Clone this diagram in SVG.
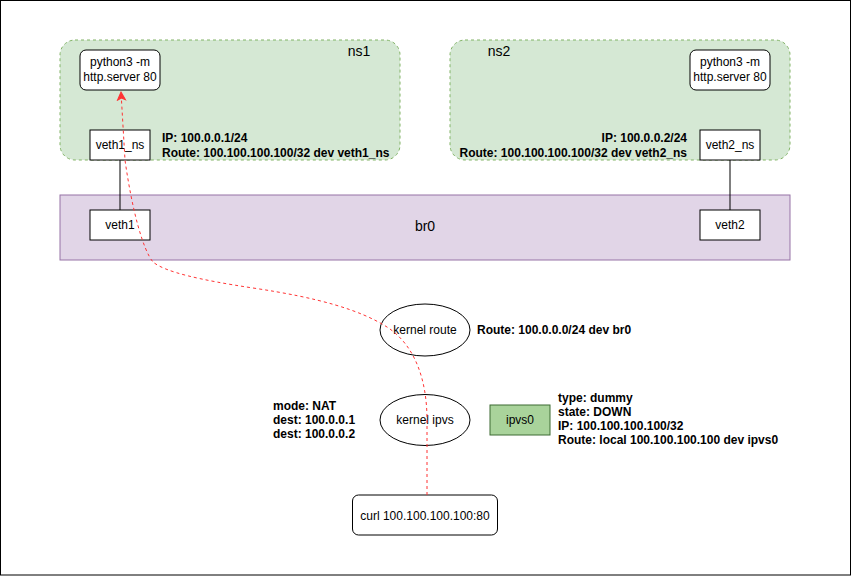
<svg xmlns="http://www.w3.org/2000/svg" width="852" height="577" viewBox="0 0 852 577">
<style>
text{font-family:"Liberation Sans",Arial,sans-serif;font-size:12px;fill:#000}
.c{text-anchor:middle}
.e{text-anchor:end}
.b{font-weight:bold}
.ns{fill:#d5e8d4;stroke:#82b366;stroke-dasharray:3 3}
.box{fill:#fff;stroke:#000}
.rbox{fill:#fff;stroke:#000}
.lbl{font-size:14px}
.ln{stroke:#000;fill:none}
.flow{stroke:#ff3333;stroke-dasharray:3 3;fill:none;stroke-width:1}
</style>
<defs>
<marker id="ah" markerUnits="userSpaceOnUse" markerWidth="10" markerHeight="10" viewBox="0 0 10 10" refX="9" refY="5" orient="auto">
<path d="M1,1 L9,5 L1,9 L3,5 z" fill="#ff3333" stroke="#ff3333"/>
</marker>
</defs>
<rect x="0.5" y="0.5" width="850" height="574.5" fill="#fff" stroke="#000"/>
<g id="ns1">
<rect class="ns" x="60" y="40" width="340" height="120" rx="15"/>
<text class="lbl c" x="359" y="56">ns1</text>
<text class="b" x="162" y="142">IP: 100.0.0.1/24</text>
<text class="b" x="162" y="157">Route: 100.100.100.100/32 dev veth1_ns</text>
</g>
<g id="ns2">
<rect class="ns" x="450" y="40" width="340" height="120" rx="15"/>
<text class="lbl c" x="499" y="56">ns2</text>
<text class="b e" x="687" y="142">IP: 100.0.0.2/24</text>
<text class="b e" x="687" y="157">Route: 100.100.100.100/32 dev veth2_ns</text>
</g>
<g id="br0">
<rect x="60" y="195" width="730" height="65" fill="#e1d5e7" stroke="#9673a6"/>
<text class="lbl c" x="425" y="231">br0</text>
</g>
<g id="connectors">
<path class="ln" d="M120 160 V210"/>
<path class="ln" d="M730 160 V210"/>
</g>
<g id="py1">
<rect class="rbox" x="80" y="50" width="80" height="40" rx="6"/>
<text class="c" x="120" y="66">python3 -m</text>
<text class="c" x="120" y="81">http.server 80</text>
</g>
<g id="py2">
<rect class="rbox" x="690" y="50" width="80" height="40" rx="6"/>
<text class="c" x="730" y="66">python3 -m</text>
<text class="c" x="730" y="81">http.server 80</text>
</g>
<g id="veth1_ns">
<rect class="box" x="90" y="130" width="60" height="30"/>
<text class="c" x="120" y="149">veth1_ns</text>
</g>
<g id="veth2_ns">
<rect class="box" x="700" y="130" width="60" height="30"/>
<text class="c" x="730" y="149">veth2_ns</text>
</g>
<g id="veth1">
<rect class="box" x="90" y="210" width="60" height="30"/>
<text class="c" x="120" y="229">veth1</text>
</g>
<g id="veth2">
<rect class="box" x="700" y="210" width="60" height="30"/>
<text class="c" x="730" y="229">veth2</text>
</g>
<g id="kroute">
<ellipse cx="425" cy="330" rx="45" ry="26" fill="#fff" stroke="#000"/>
<text class="c" x="425" y="334">kernel route</text>
<text class="b" x="477" y="334">Route: 100.0.0.0/24 dev br0</text>
</g>
<g id="kipvs">
<ellipse cx="425" cy="420" rx="45" ry="25.5" fill="#fff" stroke="#000"/>
<text class="c" x="425" y="424">kernel ipvs</text>
<text class="b" x="273" y="410">mode: NAT</text>
<text class="b" x="273" y="424">dest: 100.0.0.1</text>
<text class="b" x="273" y="438">dest: 100.0.0.2</text>
</g>
<g id="ipvs0">
<rect x="490" y="405" width="60" height="30" fill="#a9d39b" stroke="#3d6b32"/>
<text class="c" x="520" y="424">ipvs0</text>
<text class="b" x="558" y="402">type: dummy</text>
<text class="b" x="558" y="416">state: DOWN</text>
<text class="b" x="558" y="430">IP: 100.100.100.100/32</text>
<text class="b" x="558" y="444">Route: local 100.100.100.100 dev ipvs0</text>
</g>
<g id="curl">
<rect class="rbox" x="352.5" y="495" width="145" height="40" rx="6"/>
<text class="c" x="425" y="520">curl 100.100.100.100:80</text>
</g>
<g id="flow">
<path class="flow" marker-end="url(#ah)" d="M427 495 L427 420 C427 380 415 345 387 327 C360 310 320 298 253 288 C200 280 165 272 153 262 C143 250 132 210 125 160 L121 92"/>
</g>
</svg>
